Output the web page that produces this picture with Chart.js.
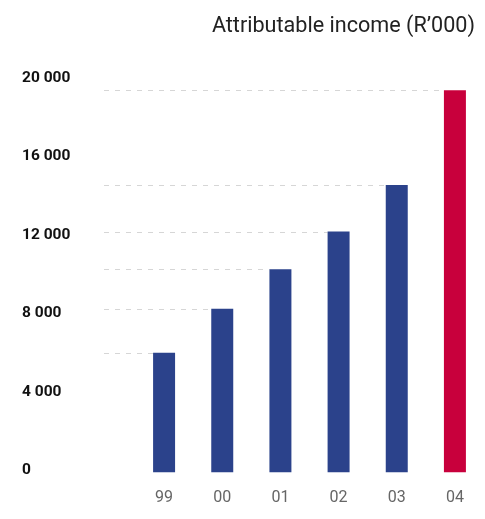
<!DOCTYPE html>
<html>
<head>
<meta charset="utf-8">
<script src="https://cdn.jsdelivr.net/npm/chart.js@4"></script>
<style>
  html, body { margin: 0; padding: 0; background: #fff; }
  #wrap { width: 485px; height: 519px; position: relative; }
</style>
</head>
<body>
<div id="wrap"><canvas id="chart"></canvas></div>
<script>
const chartTitle = "Attributable income (R\u2019000)";
const years = ["99", "00", "01", "02", "03", "04"];
const income = [6100, 8340, 10360, 12280, 14650, 19480];
const barColors = ["#2b428b", "#2b428b", "#2b428b", "#2b428b", "#2b428b", "#c8003c"];
const yTicks = [0, 4000, 8000, 12000, 16000, 20000];

function formatThousands(value) {
  return String(value).replace(/\B(?=(\d{3})+(?!\d))/g, " ");
}

// dashed guide from the left edge to the top of each bar
const barGuides = {
  id: "barGuides",
  beforeDatasetsDraw(chart) {
    const { ctx, chartArea } = chart;
    const meta = chart.getDatasetMeta(0);
    ctx.save();
    ctx.strokeStyle = "#d6d6d6";
    ctx.lineWidth = 1;
    ctx.setLineDash([5, 6]);
    meta.data.forEach((bar) => {
      const y = Math.round(bar.y) + 0.5;
      ctx.beginPath();
      ctx.moveTo(chartArea.left - 31, y);
      ctx.lineTo(bar.x - bar.width / 2, y);
      ctx.stroke();
    });
    ctx.restore();
  }
};

const cornerTitle = {
  id: "cornerTitle",
  afterDraw(chart) {
    const { ctx } = chart;
    ctx.save();
    ctx.font = "21.6px Roboto";
    ctx.fillStyle = "#222";
    ctx.textAlign = "right";
    ctx.textBaseline = "alphabetic";
    ctx.fillText(chartTitle, chart.width - 10, 32);
    ctx.restore();
  }
};

new Chart(document.getElementById("chart"), {
  type: "bar",
  data: {
    labels: years,
    datasets: [{
      data: income,
      backgroundColor: barColors,
      borderWidth: 0,
      categoryPercentage: 1,
      barPercentage: 0.378
    }]
  },
  plugins: [barGuides, cornerTitle],
  options: {
    animation: false,
    responsive: true,
    maintainAspectRatio: false,
    layout: { padding: { left: 22, right: 1, top: 80, bottom: 0 } },
    plugins: {
      legend: { display: false },
      tooltip: { enabled: false }
    },
    scales: {
      x: {
        afterFit(scale) { scale.height = 46.5; },
        grid: { display: false, drawTicks: false },
        border: { display: false },
        ticks: {
          color: "#666",
          font: { family: "Roboto", size: 16 },
          padding: 16
        }
      },
      y: {
        min: 0,
        max: 20000,
        afterFit(scale) { scale.width = 113; },
        afterBuildTicks(scale) { scale.ticks = yTicks.map((v) => ({ value: v })); },
        grid: { display: false, drawTicks: false },
        border: { display: false },
        ticks: {
          color: "#111",
          crossAlign: "far",
          labelOffset: -2,
          font: { family: "Roboto", size: 15.5, weight: "bold" },
          callback: (value) => formatThousands(value)
        }
      }
    }
  }
});
</script>
</body>
</html>
